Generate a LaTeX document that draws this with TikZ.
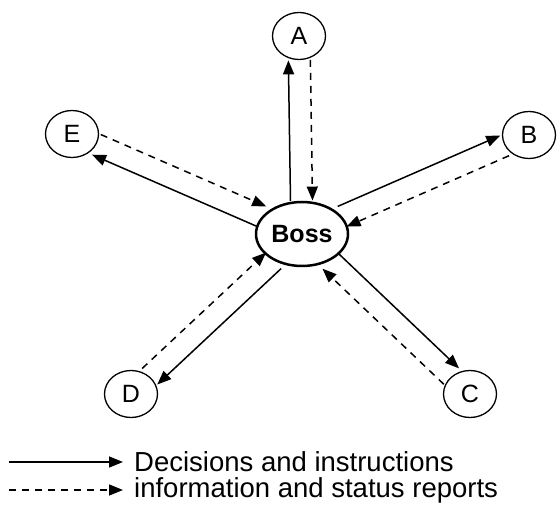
\documentclass[tikz,border=0pt]{standalone}
\usepackage{fontspec}
\setmainfont{Liberation Sans}
\usetikzlibrary{arrows.meta,shapes.geometric}
\tikzset{member/.style={ellipse,draw,line width=1.3pt,minimum width=53pt,minimum height=47pt,
                        inner sep=0pt,font=\fontsize{25}{30}\selectfont},
         order/.style={-{Triangle[length=14pt,width=11pt]},line width=1.5pt},
         report/.style={order,dash pattern=on 7pt off 6pt},
         legend/.style={anchor=west,inner sep=0pt,font=\fontsize{27.5}{32}\selectfont}}

\begin{document}
\begin{tikzpicture}[x=1pt,y=-1pt]

        \useasboundingbox (0,0) rectangle (559,510);

        \node[member,line width=2.5pt,minimum width=92pt,minimum height=64pt,
              font=\fontsize{25}{30}\selectfont\bfseries] (boss) at (302,234) {Boss};
        \node[member] (a) at (299,36)  {A};
        \node[member] (b) at (529,135) {B};
        \node[member] (c) at (470,394) {C};
        \node[member] (d) at (131,394) {D};
        \node[member] (e) at (72,134)  {E};

        \foreach \n/\ang in {a/91,b/23.5,c/-43.6,d/223.1,e/156.5}{
            \draw[order,transform canvas={shift={(\ang+90:11pt)}}] (boss) -- (\n);
            \draw[report,transform canvas={shift={(\ang-90:11pt)}}] (\n) -- (boss);
        }

        \coordinate (solid) at (9,462);
        \coordinate (dash) at (9,490);
        \node[legend] (decisions) at (134,462) {Decisions and instructions};
        \node[legend] (information) at (134,490) {information and status reports};
        \draw[order,shorten >=11pt] (solid) -- (decisions.west);
        \draw[report,shorten >=11pt] (dash) -- (information.west);

    \end{tikzpicture}
\end{document}
